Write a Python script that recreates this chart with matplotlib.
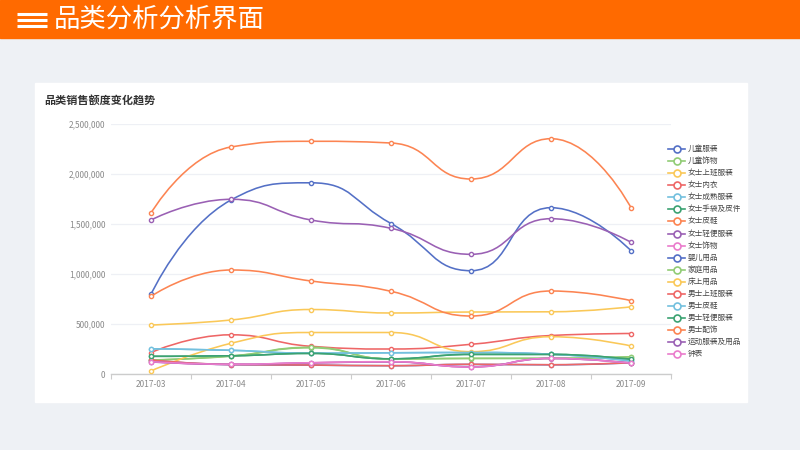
import numpy as np
import matplotlib
matplotlib.use('Agg')
import matplotlib.pyplot as plt
from matplotlib.path import Path
from matplotlib.patches import PathPatch, Rectangle
from matplotlib.lines import Line2D
from matplotlib.ticker import FuncFormatter

plt.rcParams['font.family'] = ['Noto Sans CJK SC', 'DejaVu Sans']

months = ['2017-03', '2017-04', '2017-05', '2017-06', '2017-07', '2017-08', '2017-09']
names = ['儿童服装', '儿童饰物', '女士上班服装', '女士内衣', '女士成熟服装', '女士手袋及皮件',
         '女士皮鞋', '女士轻便服装', '女士饰物', '婴儿用品', '家庭用品', '床上用品',
         '男士上班服装', '男士皮鞋', '男士轻便服装', '男士配饰', '运动服装及用品', '钟表']

kids_clothes = [797000, 1740000, 1912000, 1505000, 1033000, 1663000, 1233000]
kids_accessories = [138000, 178000, 262000, 150000, 155000, 156000, 170000]
women_office = [490000, 540000, 645000, 610000, 620000, 622000, 672000]
women_underwear = [215000, 392000, 277000, 250000, 297000, 385000, 405000]
women_mature = [252000, 237000, 208000, 212000, 215000, 198000, 130000]
women_bags = [177000, 182000, 206000, 152000, 196000, 196000, 147000]
women_shoes = [1610000, 2270000, 2327000, 2310000, 1950000, 2353000, 1663000]
women_casual = [1540000, 1747000, 1540000, 1457000, 1197000, 1553000, 1317000]
women_jewelry = [122000, 96000, 112000, 122000, 72000, 155000, 108000]
baby_goods = [138000, 94000, 89000, 83000, 96000, 92000, 112000]
household = [140000, 180000, 267000, 150000, 157000, 157000, 173000]
bedding = [30000, 307000, 415000, 415000, 223000, 373000, 280000]
men_office = [140000, 95000, 90000, 83000, 97000, 93000, 113000]
men_shoes = [252000, 237000, 208000, 212000, 215000, 198000, 130000]
men_casual = [177000, 182000, 206000, 152000, 196000, 196000, 147000]
men_accessories = [777000, 1040000, 930000, 827000, 580000, 830000, 733000]
sportswear = [121000, 96000, 111000, 121000, 71000, 156000, 110000]
watches = [123000, 97000, 113000, 123000, 70000, 157000, 107000]

series = [kids_clothes, kids_accessories, women_office, women_underwear, women_mature,
          women_bags, women_shoes, women_casual, women_jewelry, baby_goods, household,
          bedding, men_office, men_shoes, men_casual, men_accessories, sportswear, watches]

palette = ['#5470c6', '#91cc75', '#fac858', '#ee6666', '#73c0de',
           '#3ba272', '#fc8452', '#9a60b4', '#ea7ccc']

W, H = 800, 450
SX, SY = 80.0, 1e-4   # pixels per category / per unit


def fx(px):
    return px / W


def fy(py):
    return 1 - py / H


def smooth_path(ys, smooth=0.5):
    # echarts style smoothing, done in pixel space
    xs = np.arange(len(ys)) * SX
    ys = np.asarray(ys, float) * SY
    n = len(xs)
    verts = [(xs[0], ys[0])]
    codes = [Path.MOVETO]
    cp0x, cp0y = xs[0], ys[0]
    for k in range(1, n):
        x, y = xs[k], ys[k]
        px, py = xs[k - 1], ys[k - 1]
        if k == n - 1:
            cp1x, cp1y = x, y
            ncx, ncy = x, y
        else:
            nx, ny = xs[k + 1], ys[k + 1]
            vx, vy = nx - px, ny - py
            lp = np.hypot(x - px, y - py)
            ln = np.hypot(nx - x, ny - y)
            r = ln / (ln + lp)
            ncx = x + vx * smooth * r
            ncy = y + vy * smooth * r
            ncx = min(ncx, max(nx, x)); ncy = min(ncy, max(ny, y))
            ncx = max(ncx, min(nx, x)); ncy = max(ncy, min(ny, y))
            vx, vy = ncx - x, ncy - y
            cp1x = x - vx * lp / ln
            cp1y = y - vy * lp / ln
            cp1x = min(cp1x, max(px, x)); cp1y = min(cp1y, max(py, y))
            cp1x = max(cp1x, min(px, x)); cp1y = max(cp1y, min(py, y))
            vx, vy = x - cp1x, y - cp1y
            ncx = x + vx * ln / lp
            ncy = y + vy * ln / lp
        verts += [(cp0x, cp0y), (cp1x, cp1y), (x, y)]
        codes += [Path.CURVE4] * 3
        cp0x, cp0y = ncx, ncy
    verts = [(vx / SX, vy / SY) for vx, vy in verts]
    return Path(verts, codes)


fig = plt.figure(figsize=(8, 4.5), dpi=100)
fig.patch.set_facecolor('#eef1f5')

# header bar
fig.add_artist(Rectangle((0, fy(37.5)), 1, 37.5 / H, transform=fig.transFigure,
                         color='#ff6a00', zorder=0))
for yy in [14, 20, 26]:
    fig.add_artist(Line2D([fx(17), fx(47)], [fy(yy), fy(yy)], color='white', lw=2.2,
                          solid_capstyle='butt'))
fig.text(fx(54), fy(19.5), '品类分析分析界面', color='white', fontsize=19, va='center')

# card
fig.add_artist(Rectangle((fx(35), fy(401.5)), 712 / W, 319 / H, transform=fig.transFigure,
                         color='white', zorder=0))
fig.text(fx(44), fy(100), '品类销售额度变化趋势', color='#333333', fontsize=8,
         fontweight='bold', va='center')

ax = fig.add_axes([fx(111), fy(374), 560 / W, 250 / H])
ax.patch.set_alpha(0)
ax.set_xlim(-0.5, 6.5)
ax.set_ylim(0, 2500000)

x = np.arange(len(months))
for i, vals in enumerate(series):
    c = palette[i % len(palette)]
    ax.add_patch(PathPatch(smooth_path(vals), fill=False, edgecolor=c, lw=1.15,
                           zorder=3 + i * 0.01, capstyle='round'))
    ax.plot(x, vals, 'o', ms=3, mfc='white', mec=c, mew=1.0, zorder=3.005 + i * 0.01)

ax.set_yticks([0, 500000, 1000000, 1500000, 2000000, 2500000])
ax.yaxis.set_major_formatter(FuncFormatter(lambda v, p: f'{int(v):,}'))
ax.grid(axis='y', color='#eef0f5', lw=0.9)
ax.set_axisbelow(True)
ax.set_xticks(x)
ax.set_xticklabels(months)
ax.set_xticks(np.arange(-0.5, 7, 1), minor=True)
ax.tick_params(axis='x', which='major', length=0, pad=4, labelsize=6, labelcolor='#8a8a8a')
ax.tick_params(axis='x', which='minor', length=3.5, width=0.8, color='#cccccc')
ax.tick_params(axis='y', length=0, pad=4, labelsize=6, labelcolor='#8a8a8a')
for s in ['top', 'right', 'left']:
    ax.spines[s].set_visible(False)
ax.spines['bottom'].set_color('#cccccc')
ax.spines['bottom'].set_linewidth(1.0)

# legend
for i, name in enumerate(names):
    c = palette[i % len(palette)]
    yy = 149 + i * 12.08
    fig.add_artist(Line2D([fx(668), fx(685)], [fy(yy), fy(yy)], color=c, lw=1.2))
    fig.add_artist(Line2D([fx(676.5)], [fy(yy)], marker='o', ms=5, mfc='white',
                          mec=c, mew=1.2))
    fig.text(fx(688), fy(yy), name, fontsize=5.5, color='#444444', va='center')

fig.savefig('out.png', dpi=100, facecolor=fig.get_facecolor())
